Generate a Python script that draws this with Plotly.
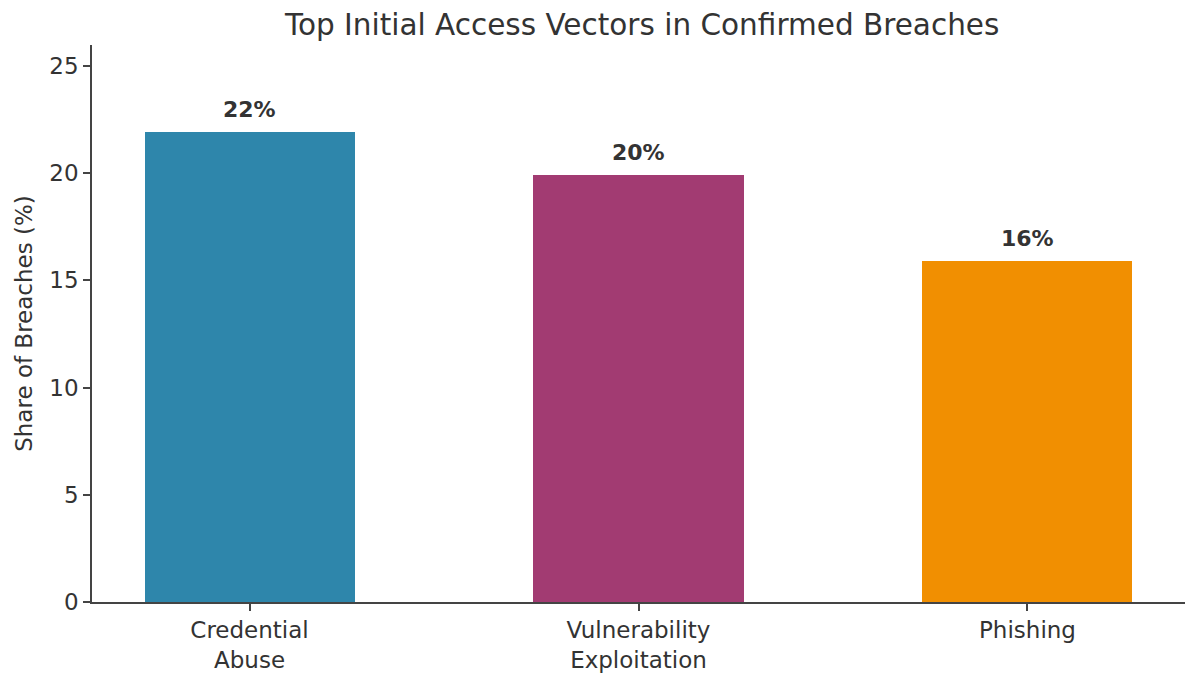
import plotly.graph_objects as go

categories = ['Credential<br>Abuse', 'Vulnerability<br>Exploitation', 'Phishing']
shares = [21.9, 19.9, 15.9]
labels = ['22%', '20%', '16%']
colors = ['#2E86AB', '#A23B72', '#F18F01']
y_ticks = [0, 5, 10, 15, 20, 25]

FONT = 'DejaVu Sans'
TEXT = '#333333'
AXIS = '#444444'

fig = go.Figure()

fig.add_trace(
    go.Bar(
        x=categories,
        y=shares,
        marker=dict(color=colors, line=dict(width=0)),
        width=0.54,
        hoverinfo='skip',
        showlegend=False,
    )
)

# value labels above each bar
for cat, val, lab in zip(categories, shares, labels):
    fig.add_annotation(
        x=cat, y=val, text=f'<b>{lab}</b>',
        showarrow=False, yanchor='bottom', yshift=8,
        font=dict(family=FONT, size=22, color=TEXT),
    )

# the page body adds an 8px margin, so the figure is kept a bit smaller
fig.update_layout(
    width=1192,
    height=667,
    title=dict(
        text='Top Initial Access Vectors in Confirmed Breaches',
        x=0.532, xanchor='center', y=0.9745, yanchor='middle', yref='container',
        font=dict(family=FONT, size=29.5, color=TEXT),
    ),
    font=dict(family=FONT, color=TEXT, size=23),
    plot_bgcolor='white',
    paper_bgcolor='white',
    margin=dict(l=84, r=15, t=37, b=73),
    bargap=0,
    xaxis=dict(
        range=[-0.405, 2.405],
        automargin=False,
        showline=True, linecolor=AXIS, linewidth=1.5,
        ticks='outside', ticklen=7, tickcolor=AXIS, tickwidth=1.5,
        showgrid=False, zeroline=False,
        tickfont=dict(family=FONT, size=23, color=TEXT),
    ),
    yaxis=dict(
        range=[0, 25.98],
        tickvals=y_ticks,
        automargin=False,
        showline=True, linecolor=AXIS, linewidth=1.5,
        ticks='outside', ticklen=7, tickcolor=AXIS, tickwidth=1.5,
        showgrid=False, zeroline=False,
        title=dict(text='Share of Breaches (%)', standoff=10,
                   font=dict(family=FONT, size=23, color=TEXT)),
        tickfont=dict(family=FONT, size=23, color=TEXT),
    ),
)

fig.write_html('out.html')
